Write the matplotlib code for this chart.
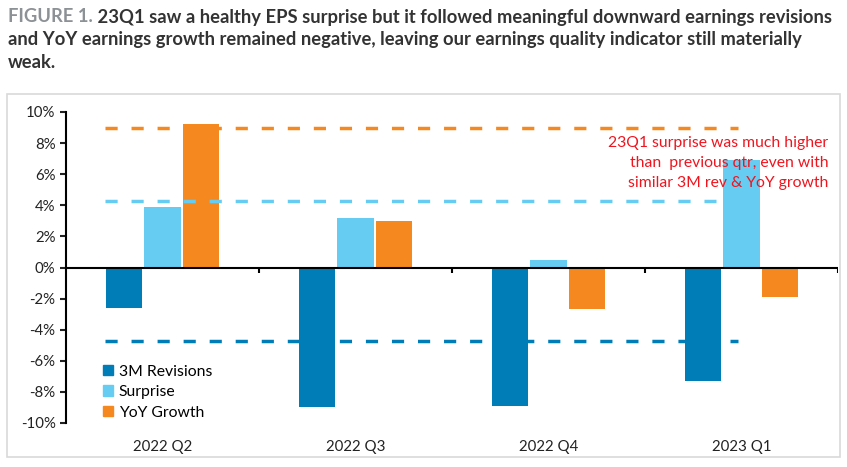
import matplotlib.pyplot as plt
from matplotlib.patches import Patch, Rectangle
from matplotlib.text import Annotation

quarters = ["2022 Q2", "2022 Q3", "2022 Q4", "2023 Q1"]
revisions = [-2.6, -9.0, -8.9, -7.3]
surprise = [3.9, 3.2, 0.5, 6.9]
yoy_growth = [9.2, 3.0, -2.7, -1.9]

# reference levels (dashed)
ref_yoy = 9.0
ref_surprise = 4.25
ref_revisions = -4.75

c_rev = "#007DB6"
c_sur = "#66CCF2"
c_yoy = "#F5891F"

plt.rcParams["font.family"] = ["Lato", "DejaVu Sans"]

fig = plt.figure(figsize=(8.47, 4.67), dpi=100)

# title, gray figure tag + bold dark text
title_lines = ["23Q1 saw a healthy EPS surprise but it followed meaningful downward earnings revisions",
               "and YoY earnings growth remained negative, leaving our earnings quality indicator still materially",
               "weak."]
t1 = fig.text(8/847, 1 - 17/467, "FIGURE 1.", color = "#8C9196", fontsize = 13.2, fontweight = "bold", va = "center")
a = Annotation(" " + title_lines[0], xy = (1, 0.5), xycoords = t1, va = "center", ha = "left",
               color = "#333333", fontsize = 13.2, fontweight = "bold")
fig.add_artist(a)
for i, line in enumerate(title_lines[1:]):
    fig.text(8/847, 1 - (40 + 22*i)/467, line, color = "#333333", fontsize = 13.2, fontweight = "bold", va = "center")

# chart frame
fig.add_artist(Rectangle((7/847, 10/467), 833/847, 363/467, transform = fig.transFigure,
                         fill = False, edgecolor = "#D9D9D9", lw = 1.2))

ax = fig.add_axes([66/847, 44/467, 772/847, 311/467])
x = range(len(quarters))
w = 0.19
off = 0.2
ax.bar([i - off for i in x], revisions, w, color = c_rev, label = "3M Revisions", zorder = 2)
ax.bar([i for i in x], surprise, w, color = c_sur, label = "Surprise", zorder = 2)
ax.bar([i + off for i in x], yoy_growth, w, color = c_yoy, label = "YoY Growth", zorder = 2)

ax.hlines(ref_yoy, -0.3, 2.98, colors = c_yoy, linestyles = (0, (3.5, 4)), lw = 2.5, zorder = 3)
ax.hlines(ref_surprise, -0.3, 2.87, colors = c_sur, linestyles = (0, (3.5, 4)), lw = 2.5, zorder = 3)
ax.hlines(ref_revisions, -0.3, 2.98, colors = c_rev, linestyles = (0, (3.5, 4)), lw = 2.5, zorder = 3)

ax.set_xlim(-0.5, 3.5)
ax.set_ylim(-10, 10)
ax.set_yticks(range(-10, 11, 2))
ax.set_yticklabels([f"{v}%" for v in range(-10, 11, 2)])
ax.set_xticks(list(x))
ax.set_xticklabels(quarters)
ax.tick_params(axis = "x", length = 0, pad = 12, labelsize = 10.8, colors = "#222222")
ax.tick_params(axis = "y", length = 4, width = 1.5, labelsize = 10.8, colors = "#222222")
for s in ["top", "right", "bottom"]:
    ax.spines[s].set_visible(False)
ax.spines["left"].set_linewidth(1.5)
ax.axhline(0, color = "black", lw = 1.5, zorder = 4)
ax.vlines([0.5, 1.5, 2.5, 3.5], 0, -0.35, colors = "black", lw = 1.5, zorder = 4)

ax.text(3.45, 8.45, "23Q1 surprise was much higher\nthan  previous qtr, even with\nsimilar 3M rev & YoY growth",
        ha = "right", va = "top", color = "#F0141E", fontsize = 11.3, linespacing = 1.55, zorder = 5)

handles = [Patch(color = c_rev), Patch(color = c_sur), Patch(color = c_yoy)]
ax.legend(handles, ["3M Revisions", "Surprise", "YoY Growth"], loc = "lower left",
          bbox_to_anchor = (0.03, -0.035), frameon = False, fontsize = 11.3,
          handlelength = 0.65, handleheight = 0.65, handletextpad = 0.35, labelspacing = 0.42)

fig.savefig("out.png", dpi = 100)
